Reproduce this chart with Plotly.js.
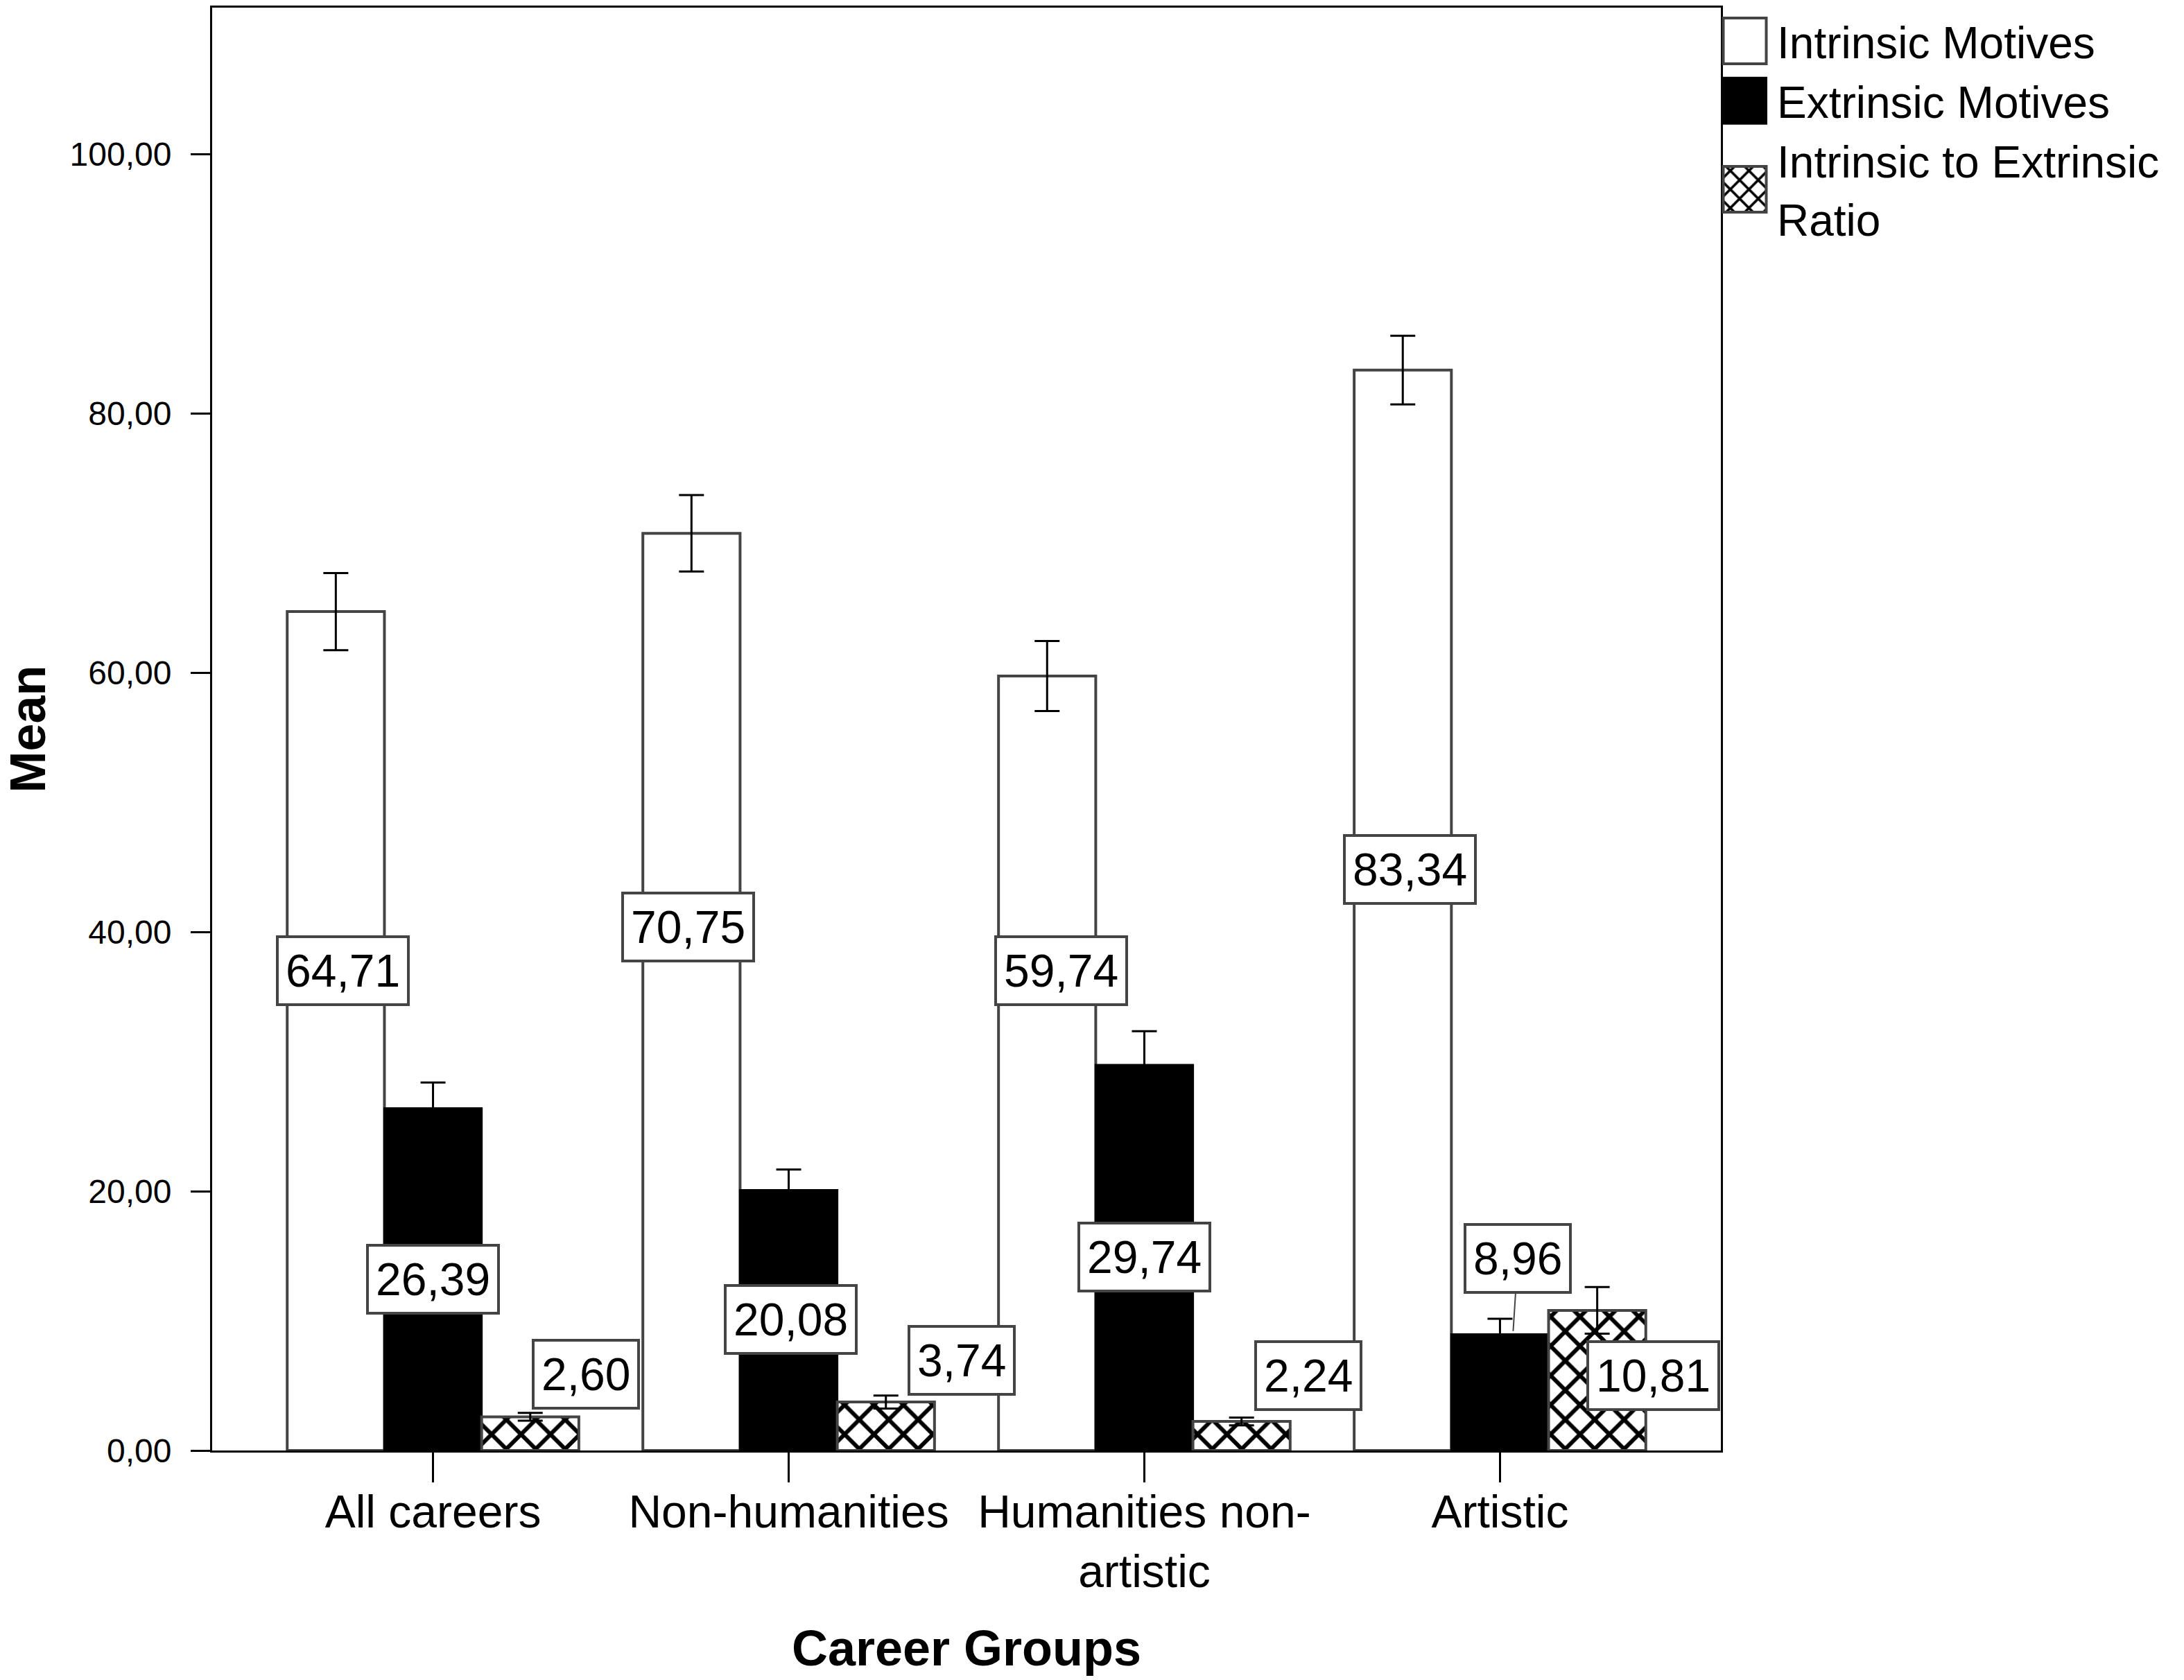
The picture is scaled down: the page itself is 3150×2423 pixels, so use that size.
<!DOCTYPE html>
<html>
<head>
<meta charset="utf-8">
<script src="https://cdn.plot.ly/plotly-3.0.1.min.js"></script>
<style>
  html, body { margin: 0; padding: 0; background: #fff; }
  #chart { width: 3150px; height: 2423px; }
</style>
</head>
<body>
<div id="chart"></div>
<script>
// values
var categories = ['All careers', 'Non-humanities', 'Humanities non-<br>artistic', 'Artistic'];
var seriesNames = ['Intrinsic Motives', 'Extrinsic Motives', 'Intrinsic to Extrinsic<br>Ratio'];
var intrinsicMean = [64.71, 70.75, 59.74, 83.34];
var extrinsicMean = [26.39, 20.08, 29.74, 8.96];
var ratioMean = [2.60, 3.74, 2.24, 10.81];
var intrinsicErr = [2.97, 2.95, 2.70, 2.65];
var extrinsicErr = [2.00, 1.60, 2.60, 1.20];
var ratioErr = [0.30, 0.50, 0.30, 1.80];
var yTicks = [0, 20, 40, 60, 80, 100];

// where the value boxes sit (y in data units, x nudge in category units)
var intrinsicLabelY = [37.0, 40.4, 37.0, 44.8];
var extrinsicLabelY = [13.2, 10.1, 14.9, 14.8];
var ratioLabelY = [5.9, 6.95, 5.8, 5.8];
var intrinsicLabelDx = [0.02, -0.01, 0.04, 0.02];
var extrinsicLabelDx = [0, 0.005, 0, 0.05];
var ratioLabelDx = [0.157, 0.213, 0.188, 0.157];
var extrinsicLeader = [false, false, false, true];

var FONT = 'Liberation Sans, Arial, sans-serif';
var BARGAP = 0.18;
var barW = (1 - BARGAP) / 3;

function fmt(v) {
  return v.toFixed(2).replace('.', ',');
}

function errBar(arr) {
  return { type: 'data', array: arr, visible: true, color: '#000', thickness: 3, width: 18 };
}

var traces = [
  {
    type: 'bar', name: seriesNames[0], x: categories, y: intrinsicMean,
    marker: { color: '#fff', line: { color: '#444', width: 4 } },
    error_y: errBar(intrinsicErr), hoverinfo: 'skip'
  },
  {
    type: 'bar', name: seriesNames[1], x: categories, y: extrinsicMean,
    marker: { color: '#000', line: { color: '#000', width: 3 } },
    error_y: errBar(extrinsicErr), hoverinfo: 'skip'
  },
  {
    type: 'bar', name: seriesNames[2], x: categories, y: ratioMean,
    marker: {
      color: '#fff',
      pattern: { shape: 'x', fgcolor: '#000', bgcolor: '#fff', size: 30, solidity: 0.35 },
      line: { color: '#444', width: 4 }
    },
    error_y: errBar(ratioErr), hoverinfo: 'skip'
  }
];

function valueBox(x, y, v) {
  return {
    xref: 'x', yref: 'y', x: x, y: y, text: fmt(v), showarrow: false,
    font: { family: FONT, size: 66, color: '#000' },
    bgcolor: '#fff', bordercolor: '#444', borderwidth: 4, borderpad: 10
  };
}

var annotations = [];
var i;
for (i = 0; i < categories.length; i++) {
  annotations.push(valueBox(i - barW + intrinsicLabelDx[i], intrinsicLabelY[i], intrinsicMean[i]));
  var ex = valueBox(i + extrinsicLabelDx[i], extrinsicLabelY[i], extrinsicMean[i]);
  if (extrinsicLeader[i]) {
    // box floats above the bar, a short leader points back to it
    ex.showarrow = true;
    ex.arrowhead = 0;
    ex.arrowwidth = 2;
    ex.arrowcolor = '#444';
    ex.axref = 'x';
    ex.ayref = 'y';
    ex.ax = ex.x;
    ex.ay = ex.y;
    ex.x = i + 0.037;
    ex.y = extrinsicMean[i] + 0.25;
  }
  annotations.push(ex);
  annotations.push(valueBox(i + barW + ratioLabelDx[i], ratioLabelY[i], ratioMean[i]));
}

var axisBase = {
  showline: true, linecolor: '#000', linewidth: 3, mirror: true,
  ticks: 'outside', tickwidth: 3, tickcolor: '#000',
  showgrid: false, zeroline: false, fixedrange: true
};

var layout = {
  width: 3150,
  height: 2423,
  margin: { l: 306, r: 668, t: 11, b: 331, autoexpand: false },
  paper_bgcolor: '#fff',
  plot_bgcolor: '#fff',
  font: { family: FONT, size: 66, color: '#000' },
  separators: ',.',
  barmode: 'group',
  bargap: BARGAP,
  bargroupgap: 0,
  showlegend: true,
  legend: {
    x: 1, xanchor: 'left', y: 1, yanchor: 'top',
    font: { family: FONT, size: 64, color: '#000' },
    itemwidth: 71, tracegroupgap: 0, traceorder: 'normal',
    bgcolor: 'rgba(0,0,0,0)', borderwidth: 0
  },
  xaxis: Object.assign({}, axisBase, {
    type: 'category',
    range: [-0.621, 3.621],
    ticklen: 43,
    ticklabelstandoff: -14,
    tickfont: { family: FONT, size: 66, color: '#000' },
    title: { text: 'Career Groups', font: { family: FONT, size: 72, weight: 'bold', color: '#000' }, standoff: 50 }
  }),
  yaxis: Object.assign({}, axisBase, {
    range: [0, 111.3],
    tickvals: yTicks,
    tickformat: '.2f',
    ticklen: 28,
    ticklabelstandoff: 18,
    tickfont: { family: FONT, size: 48, color: '#000' },
    title: { text: 'Mean', font: { family: FONT, size: 72, weight: 'bold', color: '#000' }, standoff: 30 }
  }),
  annotations: annotations
};

Plotly.newPlot('chart', traces, layout, { displayModeBar: false, staticPlot: true }).then(function (gd) {
  // SPSS legend swatches are big squares; Plotly's bar swatch is 12px, so redraw the outline bigger
  var pts = gd.querySelectorAll('.legend .legendpoints path');
  for (var k = 0; k < pts.length; k++) {
    pts[k].setAttribute('d', 'M25,33H-37V-33H25Z');
    var fill = pts[k].style.fill || pts[k].getAttribute('fill') || '';
    var m = fill.match(/#([^'")]+)/);
    if (m) {
      var pat = document.getElementById(m[1]);
      if (pat) pat.setAttribute('patternTransform', 'scale(1.9)');
    }
  }
});
</script>
</body>
</html>
